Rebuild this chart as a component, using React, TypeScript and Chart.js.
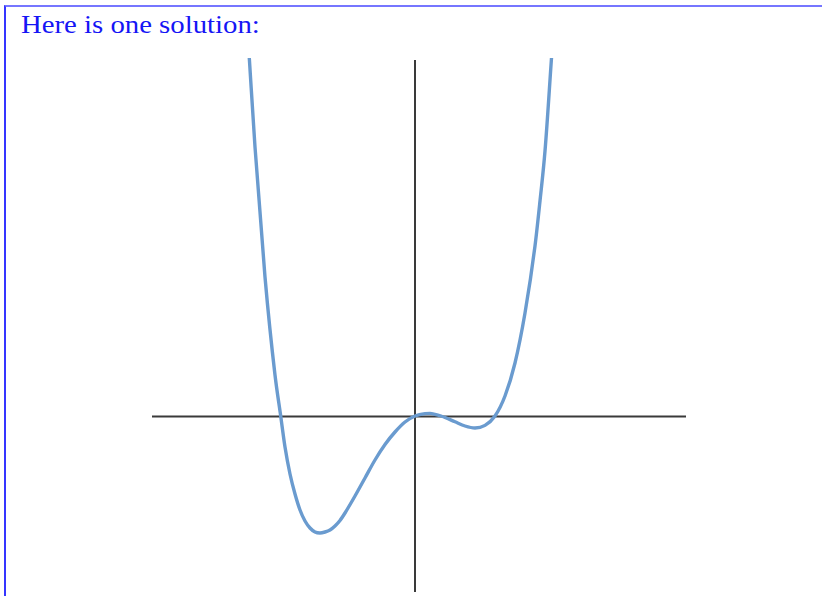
import React, { useEffect, useRef } from "react";
import { Chart, registerables } from "chart.js";

Chart.register(...registerables);

// Points (x, y in plot units; axes cross at the origin)
const curveX = [
  -1.657, -1.6, -1.5, -1.4, -1.343, -1.3, -1.25, -1.2, -1.15, -1.1, -1.05, -1.0,
  -0.95, -0.9, -0.85, -0.8, -0.75, -0.7, -0.6, -0.5, -0.4, -0.3, -0.2, -0.1, 0,
  0.1, 0.15, 0.2, 0.26, 0.3, 0.4, 0.5, 0.6, 0.7, 0.8, 0.9, 1.0, 1.1, 1.2, 1.25,
  1.3, 1.365,
];
const curveY = [
  3.58, 2.69, 1.39, 0.41, 0, -0.31, -0.58, -0.78, -0.94, -1.05, -1.12, -1.16,
  -1.17, -1.16, -1.14, -1.1, -1.045, -0.97, -0.8, -0.62, -0.44, -0.285, -0.16, -0.06, 0,
  0.024, 0.026, 0.017, 0, -0.015, -0.058, -0.1, -0.12, -0.094, 0, 0.2, 0.53, 1.03, 1.7, 2.15,
  2.65, 3.58,
];

// Visible window of the plot
const xRange = [-2.63, 2.71];
const yRange = [-1.76, 3.58];

const heading = "Here is one solution:";

const axesPlugin = {
  id: "originAxes",
  beforeDatasetsDraw(chart: any) {
    const { ctx, chartArea, scales } = chart;
    const x0 = Math.round(scales.x.getPixelForValue(0));
    const y0 = Math.round(scales.y.getPixelForValue(0));
    ctx.save();
    ctx.strokeStyle = "#3a3a3a";
    ctx.lineWidth = 2;
    ctx.beginPath();
    ctx.moveTo(chartArea.left, y0 + 0.5);
    ctx.lineTo(chartArea.right, y0 + 0.5);
    ctx.moveTo(x0, chartArea.top + 2);
    ctx.lineTo(x0, chartArea.bottom);
    ctx.stroke();
    ctx.restore();
  },
};

export default function App() {
  const canvasRef = useRef<HTMLCanvasElement | null>(null);

  useEffect(() => {
    if (!canvasRef.current) return;
    const points = curveX.map((x, i) => ({ x, y: curveY[i] }));
    const chart = new Chart(canvasRef.current, {
      type: "line",
      data: {
        datasets: [
          {
            data: points,
            borderColor: "#6a9bcf",
            borderWidth: 3.4,
            pointRadius: 0,
            cubicInterpolationMode: "monotone",
            fill: false,
            clip: false as any,
          },
        ],
      },
      options: {
        responsive: false,
        animation: false,
        devicePixelRatio: 1,
        layout: { padding: { left: 152, right: 136, top: 58, bottom: 4 } },
        plugins: { legend: { display: false }, tooltip: { enabled: false } },
        scales: {
          x: { type: "linear", min: xRange[0], max: xRange[1], display: false },
          y: { type: "linear", min: yRange[0], max: yRange[1], display: false },
        },
      },
      plugins: [axesPlugin],
    });
    return () => chart.destroy();
  }, []);

  return (
    <div style={{ position: "absolute", left: 0, top: 0, width: 822, height: 596, overflow: "hidden", background: "#fff" }}>
      <div
        style={{
          position: "absolute",
          left: 4,
          top: 5,
          width: 830,
          height: 620,
          borderTop: "2px solid #7676ff",
          borderLeft: "2px solid #3535ff",
          boxSizing: "border-box",
        }}
      />
      <div
        style={{
          position: "absolute",
          left: 21,
          top: 10,
          fontFamily: "'Liberation Serif', serif",
          fontSize: 25,
          color: "#1515f5",
          whiteSpace: "nowrap",
          lineHeight: "30px",
          transform: "scaleX(1.15)",
          transformOrigin: "0 0",
        }}
      >
        {heading}
      </div>
      <canvas ref={canvasRef} width={822} height={596} style={{ position: "absolute", left: 0, top: 0 }} />
    </div>
  );
}
